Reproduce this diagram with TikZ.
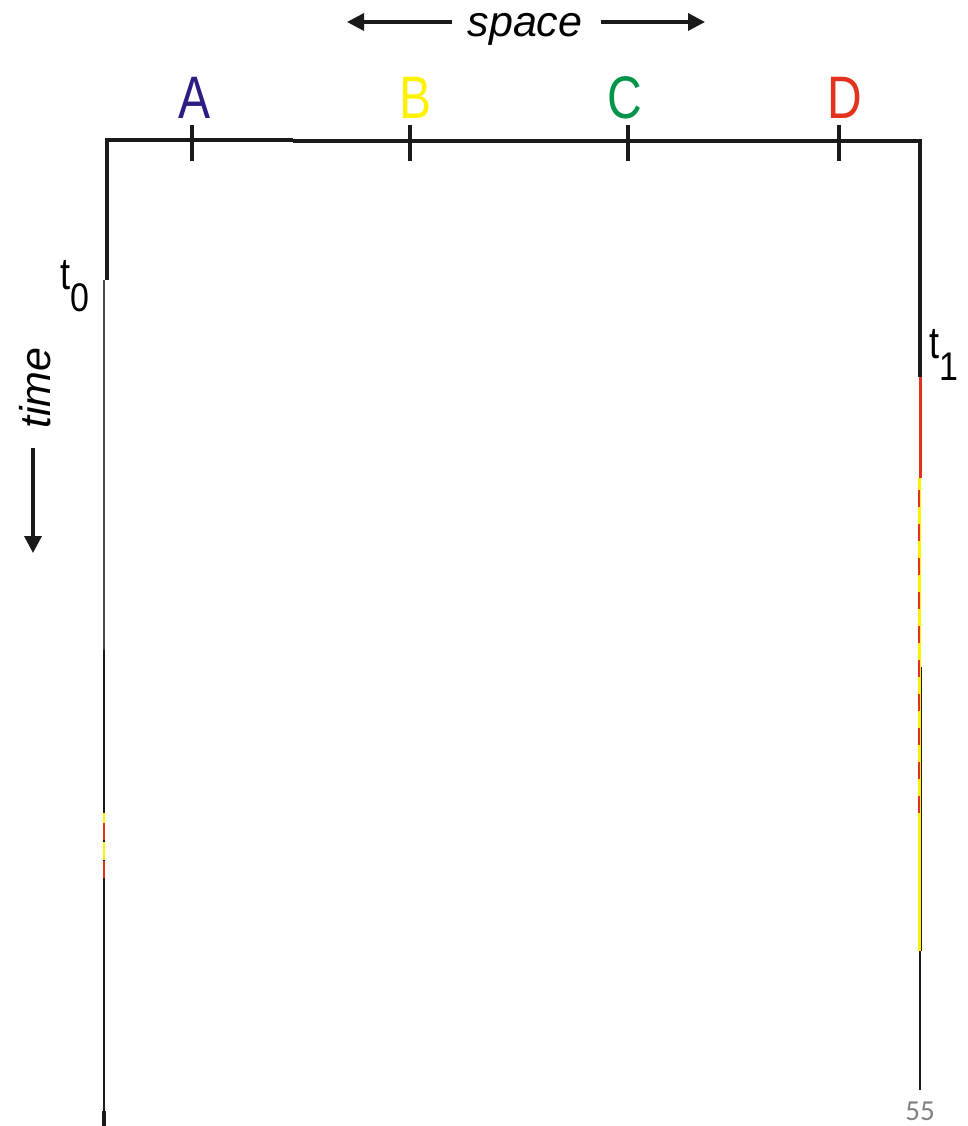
\documentclass[tikz,border=0pt]{standalone}
\usepackage{fontspec}
\setmainfont{Liberation Sans}
\newfontfamily\pagefont{Carlito}
\usetikzlibrary{arrows.meta}
\definecolor{cA}{HTML}{2E1C85}
\definecolor{cB}{HTML}{FFF200}
\definecolor{cC}{HTML}{00934A}
\definecolor{cD}{HTML}{E2321E}
\definecolor{ink}{HTML}{1A1A1A}
\tikzset{
  lbl/.style={inner sep=0pt, anchor=base, font=\fontsize{60}{60}\selectfont},
  thickline/.style={ink, line width=4.5pt},
  thinline/.style={ink, line width=2pt},
  tickmark/.style={ink, line width=3.5pt},
  arr/.style={ink, line width=3.5pt, -{Triangle[length=17pt,width=17pt]}},
  itxt/.style={inner sep=0pt, font=\fontsize{43}{43}\selectfont\itshape},
  tlbl/.style={inner sep=0pt, anchor=base west, font=\fontsize{45}{45}\selectfont},
}
\newcommand{\narrow}[1]{\scalebox{0.8}[1]{#1}}
\newcommand{\subdig}[1]{\raisebox{-22pt}{\fontsize{40}{40}\selectfont\scalebox{0.85}[1]{#1}}}
\begin{document}
\begin{tikzpicture}[x=1pt,y=-1pt]
\useasboundingbox (0,0) rectangle (967,1126);
% frame
\draw[thickline] (105,140) -- (293,140);
\draw[thickline] (293,141) -- (922,141);
\draw[thickline] (107,138) -- (107,280);
\draw[ink!80, line width=1.8pt] (104,280) -- (104,650);
\draw[thinline] (104,650) -- (104,1040);
\draw[ink, line width=2.6pt] (104,1040) -- (104,1111);
\draw[ink, line width=4.5pt] (104,1111) -- (104,1126);
\draw[cB, line width=2pt] (104,813) -- (104,823);
\draw[cD, line width=2pt] (104,823) -- (104,840);
\draw[cB, line width=2pt] (104,842) -- (104,860);
\draw[cD, line width=2pt] (104,861) -- (104,878);
% right side
\draw[thickline] (920,139) -- (920,377);
\draw[cD, line width=3pt] (920,377) -- (920,478);
\draw[ink, line width=1.5pt] (921.5,667) -- (921.5,951);
\draw[cB, line width=3pt] (919.5,478) -- (919.5,951);
\draw[cD, line width=1.6pt, dash pattern=on 17pt off 17pt] (919,490) -- (919,823);
\draw[thinline] (920,951) -- (920,1090);
% ticks
\foreach \n/\x in {a/192,b/410,c/628,d/839}{
  \coordinate (\n1) at (\x,125);
  \coordinate (\n2) at (\x,161);
  \draw[tickmark] (\n1) -- (\n2);
}
% labels
\node[lbl, text=cA] (A) at (195,119) {\narrow{A}};
\node[lbl, text=cB] (B) at (416,119) {\narrow{B}};
\node[lbl, text=cC] (C) at (625,119) {\narrow{C}};
\node[lbl, text=cD] (D) at (845,119) {\narrow{D}};
% space
\node[itxt, anchor=base] (space) at (525,37) {space};
\coordinate (sl1) at (452,22);
\coordinate (sl2) at (347,22);
\coordinate (sr1) at (601,22);
\coordinate (sr2) at (705,22);
\draw[arr] (sl1) -- (sl2);
\draw[arr] (sr1) -- (sr2);
% time
\node[itxt, anchor=base, rotate=90] (time) at (50,388) {time};
\coordinate (ta1) at (33,448);
\coordinate (ta2) at (33,553);
\draw[arr] (ta1) -- (ta2);
% t0, t1
\node[tlbl] (t0) at (60,289) {\narrow{t}\subdig{0}};
\node[tlbl] (t1) at (929,358) {\narrow{t}\subdig{1}};
% page number
\node[inner sep=0pt, anchor=base, text=gray, font=\fontsize{29}{29}\selectfont\pagefont] (pg) at (920,1120) {55};
\end{tikzpicture}
\end{document}
